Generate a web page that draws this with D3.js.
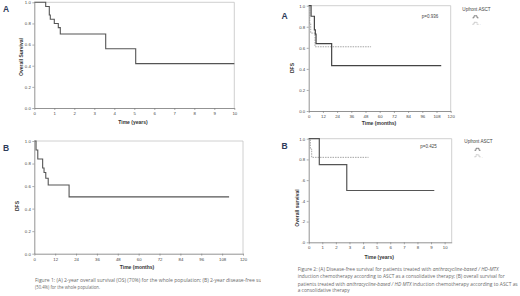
<!DOCTYPE html>
<html><head><meta charset="utf-8">
<script src="https://cdn.jsdelivr.net/npm/d3@7"></script>
<style>
html,body{margin:0;padding:0;background:#fff;}
svg{display:block;}
</style></head>
<body>
<svg id="c" width="520" height="296"></svg>
<script>
// ---- data ----
// Fig 1A: overall survival, whole population (years)
const osTime = [0, 0.57, 0.75, 0.8, 1.0, 1.2, 1.3, 3.57, 5.07, 10];
const osSurv = [1.0, 0.96, 0.88, 0.84, 0.80, 0.76, 0.70, 0.56, 0.42, 0.42];
// Fig 1B: disease-free survival, whole population (months)
const dfsTime = [0, 1, 2, 4.8, 5.6, 6.6, 8, 20, 112];
const dfsSurv = [1.0, 0.92, 0.84, 0.76, 0.72, 0.67, 0.61, 0.504, 0.504];
// Fig 2A: DFS by upfront ASCT (months)
const dfsYesTime = [0, 2, 4.8, 5.6, 6.2, 19.4, 112];
const dfsYesSurv = [1.0, 0.90, 0.77, 0.73, 0.64, 0.43, 0.43];
const dfsNoTime = [0, 0.9, 1.7, 5.3, 52.7];
const dfsNoSurv = [1.0, 0.83, 0.74, 0.61, 0.61];
// Fig 2B: OS by upfront ASCT (years)
const osYesTime = [0, 0.78, 2.8, 9.24];
const osYesSurv = [1.0, 0.75, 0.50, 0.50];
const osNoTime = [0, 0.12, 0.22, 4.4];
const osNoSurv = [1.0, 0.90, 0.82, 0.82];
// ticks
const yTicks = [0, 0.2, 0.4, 0.6, 0.8, 1.0];
const yTickLabels = ["0.0", "0.2", "0.4", "0.6", "0.8", "1.0"];
const yTickLabelsCut = [".0", ".2", ".4", ".6", "0.8", "1.0"];
const yearTicks = [0,1,2,3,4,5,6,7,8,9,10];
const monthTicks = [0,12,24,36,48,60,72,84,96,108,120];
const pValues = ["p=0.936", "p=0.425"];
const legendTitle = "Upfront ASCT";

const svg = d3.select("#c");
const FONT = "'Liberation Sans', Arial, sans-serif";
const CAP = "'Open Sans', Lato, sans-serif";

function panel(o) {
  const x = d3.scaleLinear().domain(o.xDomain).range([o.x0, o.x1]);
  const y = d3.scaleLinear().domain([0, 1]).range([o.y1, o.y0]);
  const g = svg.append("g");
  // frame top/right
  g.append("line").attr("x1", x(o.xDomain[0])).attr("x2", x(o.xDomain[1]))
    .attr("y1", y(1)).attr("y2", y(1)).attr("stroke", "#c4c4c4").attr("stroke-width", 0.8);
  g.append("line").attr("x1", x(o.xDomain[1])).attr("x2", x(o.xDomain[1]))
    .attr("y1", y(1)).attr("y2", y(0)).attr("stroke", "#c4c4c4").attr("stroke-width", 0.8);
  const ax = g.append("g").attr("transform", `translate(0,${y(0)})`)
    .call(d3.axisBottom(x).tickValues(o.xTicks).tickSize(2).tickSizeOuter(0).tickPadding(2));
  const ay = g.append("g").attr("transform", `translate(${x(0)},0)`)
    .call(d3.axisLeft(y).tickValues(yTicks).tickFormat((d, i) => o.yLabels[i]).tickSize(2).tickSizeOuter(0).tickPadding(1.5));
  [ax, ay].forEach(a => {
    a.select(".domain").attr("stroke", "#777").attr("stroke-width", 0.8);
    a.selectAll(".tick line").attr("stroke", "#777").attr("stroke-width", 0.6);
    a.selectAll("text").attr("font-family", FONT).attr("font-size", 4.3).attr("fill", "#444");
  });
  g.append("text").attr("x", o.xLab[0]).attr("y", o.xLab[1]).attr("text-anchor", "middle")
    .attr("font-family", FONT).attr("font-size", 5).attr("font-weight", "bold").attr("fill", "#333").text(o.xLabel);
  g.append("text").attr("transform", `translate(${o.yLab[0]},${o.yLab[1]}) rotate(-90)`).attr("text-anchor", "middle")
    .attr("font-family", FONT).attr("font-size", 5).attr("font-weight", "bold").attr("fill", "#333").text(o.yLabel);
  const line = d3.line().x(d => x(d[0])).y(d => y(d[1])).curve(d3.curveStepAfter);
  o.series.forEach(s => {
    g.append("path").datum(d3.zip(s.t, s.s)).attr("d", line).attr("fill", "none")
      .attr("stroke", s.color).attr("stroke-width", s.w).attr("stroke-dasharray", s.dash || null);
  });
  g.append("text").attr("x", o.lab[0]).attr("y", o.lab[1]).attr("font-family", FONT)
    .attr("font-size", 8.5).attr("font-weight", "bold").attr("fill", "#2e3b5a").text(o.label);
  return {x, y, g};
}

panel({xDomain: [0, 10], xTicks: yearTicks, yLabels: yTickLabels, x0: 34.3, x1: 234.3, y0: 2.3, y1: 108,
  xLabel: "Time (years)", xLab: [133, 124], yLabel: "Overall Survival", yLab: [22.5, 57],
  series: [{t: osTime, s: osSurv, color: "#555", w: 1.1}], label: "A", lab: [3, 11.5]});

panel({xDomain: [0, 120], xTicks: monthTicks, yLabels: yTickLabels, x0: 34.3, x1: 243, y0: 141, y1: 253.7,
  xLabel: "Time (months)", xLab: [137, 268.5], yLabel: "DFS", yLab: [18.5, 206],
  series: [{t: dfsTime, s: dfsSurv, color: "#555", w: 1.1}], label: "B", lab: [3, 150.5]});

panel({xDomain: [0, 120], xTicks: monthTicks, yLabels: yTickLabels, x0: 308.7, x1: 450.7, y0: 5.7, y1: 111,
  xLabel: "Time (months)", xLab: [379, 125], yLabel: "DFS", yLab: [294, 68],
  series: [{t: dfsNoTime, s: dfsNoSurv, color: "#9a9a9a", w: 0.9, dash: "1.5,1"},
           {t: dfsYesTime, s: dfsYesSurv, color: "#444", w: 1.2}], label: "A", lab: [281.5, 19]});

panel({xDomain: [0, 10.52], xTicks: yearTicks, yLabels: yTickLabelsCut, x0: 308.7, x1: 451.7, y0: 138.7, y1: 242.3,
  xLabel: "Time (years)", xLab: [379.3, 259], yLabel: "Overall survival", yLab: [299, 208],
  series: [{t: osNoTime, s: osNoSurv, color: "#9a9a9a", w: 0.9, dash: "1.5,1"},
           {t: osYesTime, s: osYesSurv, color: "#555", w: 1.2}], label: "B", lab: [281.5, 148.5]});

// p-values
[[pValues[0], 430, 17.5], [pValues[1], 428.5, 147.5]].forEach(([t, px, py]) => {
  svg.append("text").attr("x", px).attr("y", py).attr("text-anchor", "middle").attr("font-family", FONT)
    .attr("font-size", 4.5).attr("fill", "#444").text(t);
});

// legends
function legend(cx, ty) {
  const g = svg.append("g");
  g.append("text").attr("x", cx).attr("y", ty).attr("text-anchor", "middle").attr("font-family", FONT)
    .attr("font-size", 4.6).attr("fill", "#444").text(legendTitle);
  const glyph = (yy, col, dash) => g.append("path")
    .attr("d", `M${cx - 4},${yy} h1.5 v-2 h3 v2 h1.5`).attr("fill", "none")
    .attr("stroke", col).attr("stroke-width", 0.7).attr("stroke-dasharray", dash || null);
  glyph(ty + 7, "#555");
  glyph(ty + 13.5, "#999", "1,0.6");
  g.append("text").attr("x", cx + 3).attr("y", ty + 14.5).attr("font-family", FONT).attr("font-size", 2.5)
    .attr("fill", "#999").text("+");
}
legend(476.5, 10.8);
legend(478.5, 143.3);

// captions
svg.append("defs").append("clipPath").attr("id", "cl").append("rect")
  .attr("x", 0).attr("y", 260).attr("width", 261).attr("height", 36);
const cap1 = svg.append("g").attr("clip-path", "url(#cl)");
cap1.append("text").attr("x", 35).attr("y", 281.6).attr("font-family", CAP).attr("font-size", 4.6).attr("fill", "#6a6a6a")
  .attr("textLength", 239).attr("lengthAdjust", "spacingAndGlyphs")
  .text("Figure 1:  (A) 2-year overall survival (OS) (70%) for the whole population; (B) 2-year disease-free survival");
cap1.append("text").attr("x", 35).attr("y", 288.8).attr("font-family", CAP).attr("font-size", 4.6).attr("fill", "#6a6a6a")
  .attr("textLength", 65).attr("lengthAdjust", "spacingAndGlyphs")
  .text("(50.4%) for the whole population.");

const cap2 = [
  ["Figure 2:  (A) Disease-free survival for patients treated with ", "anthracycline-based / HD-MTX", "", 201],
  ["induction chemotherapy according to ASCT as a consolidative therapy; (B) overall survival for", "", "", 207],
  ["patients treated with ", "anthracycline-based / HD MTX", " induction chemotherapy according to ASCT as", 220],
  ["a consolidative therapy", "", "", 52]
];
const cap2y = [270.9, 278.2, 285.6, 292.3];
cap2.forEach((parts, i) => {
  const t = svg.append("text").attr("x", 297.7).attr("y", cap2y[i]).attr("font-family", CAP)
    .attr("font-size", 4.6).attr("fill", "#6a6a6a").attr("textLength", parts[3]).attr("lengthAdjust", "spacingAndGlyphs");
  t.append("tspan").text(parts[0]);
  if (parts[1]) t.append("tspan").attr("font-style", "italic").text(parts[1]);
  if (parts[2]) t.append("tspan").text(parts[2]);
});
</script>
</body></html>
